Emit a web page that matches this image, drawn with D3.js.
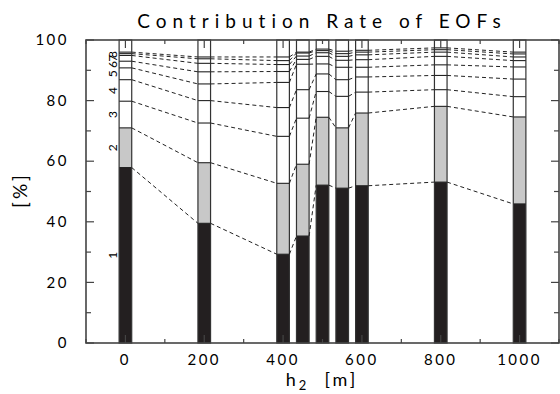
<!DOCTYPE html>
<html><head><meta charset="utf-8">
<script src="https://cdn.jsdelivr.net/npm/d3@7"></script>
<style>body{margin:0;background:#fff}svg{display:block}text{font-family:Lato,"DejaVu Sans",sans-serif;font-weight:400;fill:#000}</style>
</head><body><svg id="c" width="560" height="394"></svg>
<script>
// h2 positions [m]
const h2 = [0, 200, 400, 450, 500, 550, 600, 800, 1000];
// cumulative contribution rate [%] up to EOF k
const cumEOF1 = [57.9, 39.5, 29.3, 35.3, 52.1, 51.1, 51.9, 53.1, 45.9];
const cumEOF2 = [71.0, 59.5, 52.7, 59.0, 74.5, 71.0, 75.9, 78.1, 74.6];
const cumEOF3 = [79.8, 72.6, 68.2, 74.2, 83.0, 81.4, 82.8, 83.6, 81.3];
const cumEOF4 = [86.9, 80.0, 77.7, 83.6, 88.8, 86.9, 87.8, 88.3, 87.1];
const cumEOF5 = [90.8, 85.5, 86.0, 92.0, 92.1, 91.0, 91.0, 91.8, 91.1];
const cumEOF6 = [93.0, 89.5, 89.6, 93.6, 94.6, 93.3, 93.5, 94.6, 93.2];
const cumEOF7 = [94.9, 92.3, 91.9, 94.7, 95.8, 94.6, 95.1, 96.0, 94.4];
const cumEOF8 = [95.5, 93.8, 93.2, 95.7, 96.5, 95.5, 96.0, 96.8, 95.4];
const cumEOF9 = [96.0, 94.4, 94.4, 96.0, 97.0, 96.3, 96.6, 97.4, 96.0];
const eofLabels = ["1","2","3","4","5","6","7","8"];
const xTicks = [0, 200, 400, 600, 800, 1000];
const xMinorTicks = [-100, 100, 300, 500, 700, 900, 1100];
const yTicks = [0, 20, 40, 60, 80, 100];
const yMinorTicks = [10, 30, 50, 70, 90];
const title = "Contribution Rate of EOFs";

const cum = [cumEOF1, cumEOF2, cumEOF3, cumEOF4, cumEOF5, cumEOF6, cumEOF7, cumEOF8, cumEOF9];

const svg = d3.select("#c");
const L = 86, R = 559, T = 40, B = 343;
const x = d3.scaleLinear().domain([-100, 1100]).range([L, R]);
const y = d3.scaleLinear().domain([0, 100]).range([B, T]);
const halfW = 16; // bar half width in data units

const g = svg.append("g");

// bars
h2.forEach((h, i) => {
  const x0 = x(h - halfW), w = x(h + halfW) - x(h - halfW);
  g.append("rect").attr("x", x0).attr("y", y(100)).attr("width", w).attr("height", y(0) - y(100))
    .attr("fill", "#fff");
  g.append("rect").attr("x", x0).attr("y", y(cumEOF2[i])).attr("width", w).attr("height", y(cumEOF1[i]) - y(cumEOF2[i]))
    .attr("fill", "#c8c8c8");
  g.append("rect").attr("x", x0).attr("y", y(cumEOF1[i])).attr("width", w).attr("height", y(0) - y(cumEOF1[i]))
    .attr("fill", "#231f20");
  cum.forEach((c, k) => {
    g.append("line").attr("x1", x0).attr("x2", x0 + w).attr("y1", y(c[i])).attr("y2", y(c[i]))
      .attr("stroke", "#222").attr("stroke-width", 1.1);
  });
  g.append("rect").attr("x", x0).attr("y", y(100)).attr("width", w).attr("height", y(0) - y(100))
    .attr("fill", "none").attr("stroke", "#333").attr("stroke-width", 1.2);
});

// dashed connectors
cum.forEach(c => {
  for (let i = 0; i < h2.length - 1; i++) {
    g.append("line")
      .attr("x1", x(h2[i] + halfW)).attr("y1", y(c[i]))
      .attr("x2", x(h2[i + 1] - halfW)).attr("y2", y(c[i + 1]))
      .attr("stroke", "#222").attr("stroke-width", 1).attr("stroke-dasharray", "4,3");
  }
});

// EOF number labels beside first bar
eofLabels.forEach((lab, k) => {
  const lo = k === 0 ? 0 : cum[k - 1][0];
  const hi = cum[k][0];
  const cx = x(h2[0] - halfW) - 6, cy = y((lo + hi) / 2);
  svg.append("text").attr("transform", `translate(${cx},${cy}) rotate(-90)`)
    .attr("text-anchor", "middle").attr("dy", "0.35em").attr("font-size", 12).text(lab);
});

// frame
svg.append("rect").attr("x", L).attr("y", T).attr("width", R - L).attr("height", B - T)
  .attr("fill", "none").attr("stroke", "#444").attr("stroke-width", 1.6);

// ticks (inward)
const tk = svg.append("g").attr("stroke", "#444").attr("stroke-width", 1.2);
xTicks.forEach(v => {
  tk.append("line").attr("x1", x(v)).attr("x2", x(v)).attr("y1", B).attr("y2", B - 8);
  tk.append("line").attr("x1", x(v)).attr("x2", x(v)).attr("y1", T).attr("y2", T + 8);
});
xMinorTicks.forEach(v => {
  tk.append("line").attr("x1", x(v)).attr("x2", x(v)).attr("y1", B).attr("y2", B - 4);
  tk.append("line").attr("x1", x(v)).attr("x2", x(v)).attr("y1", T).attr("y2", T + 4);
});
yTicks.forEach(v => {
  tk.append("line").attr("x1", L).attr("x2", L + 8).attr("y1", y(v)).attr("y2", y(v));
  tk.append("line").attr("x1", R).attr("x2", R - 8).attr("y1", y(v)).attr("y2", y(v));
});
yMinorTicks.forEach(v => {
  tk.append("line").attr("x1", L).attr("x2", L + 5).attr("y1", y(v)).attr("y2", y(v));
  tk.append("line").attr("x1", R).attr("x2", R - 5).attr("y1", y(v)).attr("y2", y(v));
});

// tick labels
xTicks.forEach(v => {
  svg.append("text").attr("x", x(v)).attr("y", 365).attr("text-anchor", "middle")
    .attr("font-size", 15).attr("letter-spacing", 2.5).text(v);
});
yTicks.forEach(v => {
  svg.append("text").attr("x", 69).attr("y", y(v)).attr("dy", "0.35em").attr("text-anchor", "end")
    .attr("font-size", 15).attr("letter-spacing", 2.5).text(v);
});

// title & axis labels
svg.append("text").attr("x", 322).attr("y", 28).attr("text-anchor", "middle")
  .attr("font-size", 19).attr("letter-spacing", 6).text(title);
const xl = svg.append("text").attr("x", 322).attr("y", 386).attr("text-anchor", "middle")
  .attr("font-size", 18).attr("letter-spacing", 3);
xl.append("tspan").text("h");
xl.append("tspan").attr("font-size", 13).attr("dy", 4).text("2");
xl.append("tspan").attr("dy", -4).text("\u00a0\u00a0[m]");
svg.append("text").attr("transform", "translate(27,190) rotate(-90)").attr("text-anchor", "middle")
  .attr("font-size", 19).attr("letter-spacing", 3).text("[%]");
</script></body></html>
